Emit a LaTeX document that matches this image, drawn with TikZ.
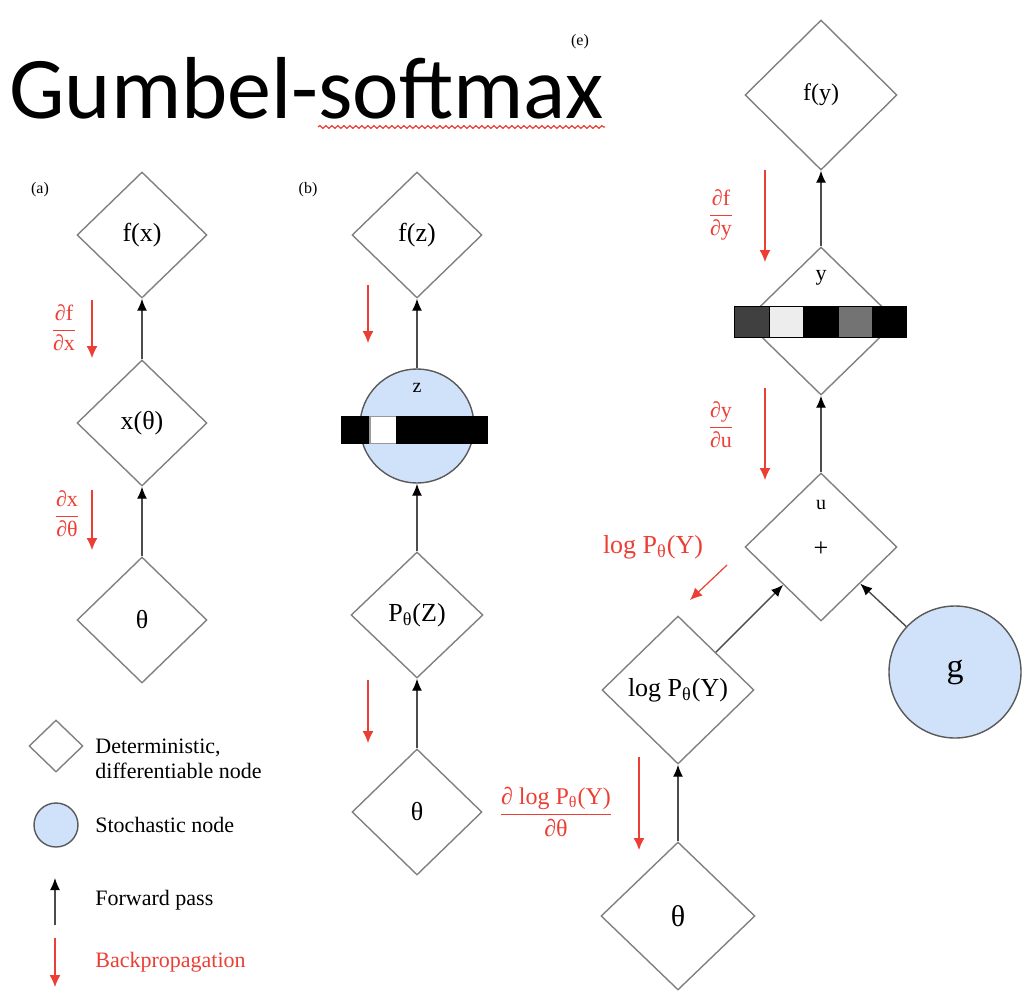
\documentclass[tikz,border=0pt]{standalone}
\usepackage{fontspec}
\setmainfont{Liberation Serif}
\newfontfamily\titlefont{Carlito}
\usepackage{tikz}
\usetikzlibrary{
  arrows.meta,
  decorations.pathmorphing,
  positioning,
  shapes.geometric,
}
\definecolor{backred}{RGB}{236, 62, 52}
\definecolor{stochblue}{RGB}{208, 226, 250}
\tikzstyle{fwdarrow} = [
  -{Latex[length=6pt,width=5pt,color=black]},
  line width=0.7pt,
  draw=black!70,
]
\tikzstyle{backarrow} = [
  -{Latex[length=6pt,width=5.5pt]},
  line width=0.6pt,
  draw=backred,
]
\tikzstyle{detnode} = [draw=black!50, diamond, line width=0.7pt, inner sep=0pt, minimum width=65pt, minimum height=63pt, font=\fontsize{13}{15}\selectfont]
\tikzstyle{stochnode} = [draw=black!65, circle, fill=stochblue, line width=0.7pt, inner sep=0pt]
\tikzstyle{gradlabel} = [text=backred, inner sep=0pt, font=\fontsize{11}{13}\selectfont]
\tikzstyle{onehot} = [draw=black, rectangle, line width=0.6pt, inner sep=0pt, outer sep=0pt]
\tikzstyle{legtext} = [anchor=west, inner sep=0pt, font=\fontsize{11}{12.5}\selectfont]
\tikzstyle{panel} = [inner sep=0pt, font=\fontsize{8}{9}\selectfont]
\newcommand{\partfrac}[2]{$\displaystyle\frac{\hbox{#1}}{\hbox{#2}}$}

\begin{document}
\begin{tikzpicture}[x=0.5pt, y=-0.5pt, node distance=0mm and 0mm]

      \useasboundingbox (0,0) rectangle (1034,992);

      \node[anchor=base west, inner sep=0pt, font=\titlefont\fontsize{44}{50}\selectfont] (title) at (9,118) {Gumbel-softmax};
      \draw[backred, line width=0.6pt, decorate, decoration={snake, amplitude=0.7pt, segment length=3pt}] (318,127) -- (605,127);

      \node[panel] (pa) at (40,190) {(a)};
      \node[panel] (pb) at (308,190) {(b)};
      \node[panel] (pe) at (580,42) {(e)};

      \node[detnode] (a0) at (142,620) {θ};
      \node[detnode] (a1) at (142,423) {x(θ)};
      \node[detnode] (a2) at (142,235) {f(x)};
      \draw[fwdarrow] (a0) -- (a1);
      \draw[fwdarrow] (a1) -- (a2);
      \coordinate (ra1) at (92,300);
      \coordinate (ra0) at (92,490);
      \draw[backarrow] (ra1) -- ++(0,58);
      \draw[backarrow] (ra0) -- ++(0,60);
      \node[gradlabel] (ga1) at (64,328) {\partfrac{∂f}{∂x}};
      \node[gradlabel] (ga0) at (67,514) {\partfrac{∂x}{∂θ}};

      \node[detnode] (b0) at (417,812) {θ};
      \node[detnode, minimum width=66pt] (b1) at (417,615) {P\textsubscript{θ}(Z)};
      \node[stochnode, minimum size=57pt] (b2) at (417,426) {};
      \node[font=\fontsize{10}{12}\selectfont, inner sep=0pt] (b2l) at (417,388) {z};
      \node[onehot, minimum width=14pt, minimum height=13.5pt, fill=black] (b2c1) at (356,430) {};
      \node[onehot, minimum width=13.5pt, minimum height=13.5pt, fill=white, draw=black!40] (b2c2) [right=of b2c1] {};
      \node[onehot, minimum width=45pt, minimum height=13.5pt, fill=black] (b2c3) [right=of b2c2] {};
      \node[detnode] (b3) at (417,235) {f(z)};
      \draw[fwdarrow] (b0) -- (b1);
      \draw[fwdarrow] (b1) -- (b2);
      \draw[fwdarrow] (b2) -- (b3);
      \coordinate (rb1) at (368,285);
      \coordinate (rb0) at (368,680);
      \draw[backarrow] (rb1) -- ++(0,58);
      \draw[backarrow] (rb0) -- ++(0,63);

      \node[detnode, minimum width=77pt, minimum height=74pt, font=\fontsize{15}{17}\selectfont] (e0) at (678,916) {θ};
      \node[detnode, minimum width=76pt, minimum height=74pt] (e1) at (678,690) {log P\textsubscript{θ}(Y)};
      \node[stochnode, minimum size=66pt, font=\fontsize{17}{19}\selectfont] (e2) at (955,672) {g};
      \node[detnode, minimum width=76pt, minimum height=74pt] (e3) at (821,547) {};
      \node[font=\fontsize{10}{12}\selectfont, inner sep=0pt] (e3l) at (821,505) {u};
      \node[font=\fontsize{13}{15}\selectfont, inner sep=0pt] (e3p) at (821,549) {+};
      \node[detnode, minimum width=76pt, minimum height=74pt] (e4) at (821,321) {};
      \node[font=\fontsize{11}{13}\selectfont, inner sep=0pt] (e4l) at (821,278) {y};
      \node[onehot, minimum width=17.2pt, minimum height=15.5pt, fill=black!75] (e4c1) at (752,322) {};
      \node[onehot, minimum width=17.2pt, minimum height=15.5pt, fill=black!7] (e4c2) [right=of e4c1] {};
      \node[onehot, minimum width=17.2pt, minimum height=15.5pt, fill=black] (e4c3) [right=of e4c2] {};
      \node[onehot, minimum width=17.2pt, minimum height=15.5pt, fill=black!55] (e4c4) [right=of e4c3] {};
      \node[onehot, minimum width=17.2pt, minimum height=15.5pt, fill=black] (e4c5) [right=of e4c4] {};
      \node[detnode, minimum width=76pt, minimum height=75pt, font=\fontsize{12}{14}\selectfont] (e5) at (821,95) {f(y)};
      \draw[fwdarrow] (e0) -- (e1);
      \draw[fwdarrow] (e1) -- (e3);
      \draw[fwdarrow] (e2) -- (e3);
      \draw[fwdarrow] (e3) -- (e4);
      \draw[fwdarrow] (e4) -- (e5);
      \coordinate (re4) at (765,170);
      \coordinate (re3) at (765,388);
      \coordinate (re1) at (727,565);
      \coordinate (re0) at (639,757);
      \draw[backarrow] (re4) -- ++(0,92);
      \draw[backarrow] (re3) -- ++(0,92);
      \draw[backarrow] (re1) -- ++(-37,35);
      \draw[backarrow] (re0) -- ++(0,93);
      \node[gradlabel] (ge4) at (721,215) {\partfrac{∂f}{∂y}};
      \node[gradlabel] (ge3) at (721,425) {\partfrac{∂y}{∂u}};
      \node[gradlabel, font=\fontsize{13}{15}\selectfont] (ge1) at (653,547) {log P\textsubscript{θ}(Y)};
      \node[gradlabel, font=\fontsize{12}{14}\selectfont] (ge0) at (556,812) {\partfrac{∂ log P\textsubscript{θ}(Y)}{∂θ}};

      \node[detnode, minimum width=27pt, minimum height=26pt] (l0) at (56,746) {};
      \node[legtext, align=left] (l0t) at (95,759) {Deterministic,\\differentiable node};
      \node[stochnode, minimum size=22pt] (l1) at (56,825) {};
      \node[legtext] (l1t) at (95,825) {Stochastic node};
      \coordinate (l2) at (55,925);
      \draw[fwdarrow] (l2) -- ++(0,-47);
      \node[legtext] (l2t) at (95,900) {Forward pass};
      \coordinate (l3) at (55,938);
      \draw[backarrow] (l3) -- ++(0,49);
      \node[legtext, text=backred] (l3t) at (95,962) {Backpropagation};

    \end{tikzpicture}
\end{document}
